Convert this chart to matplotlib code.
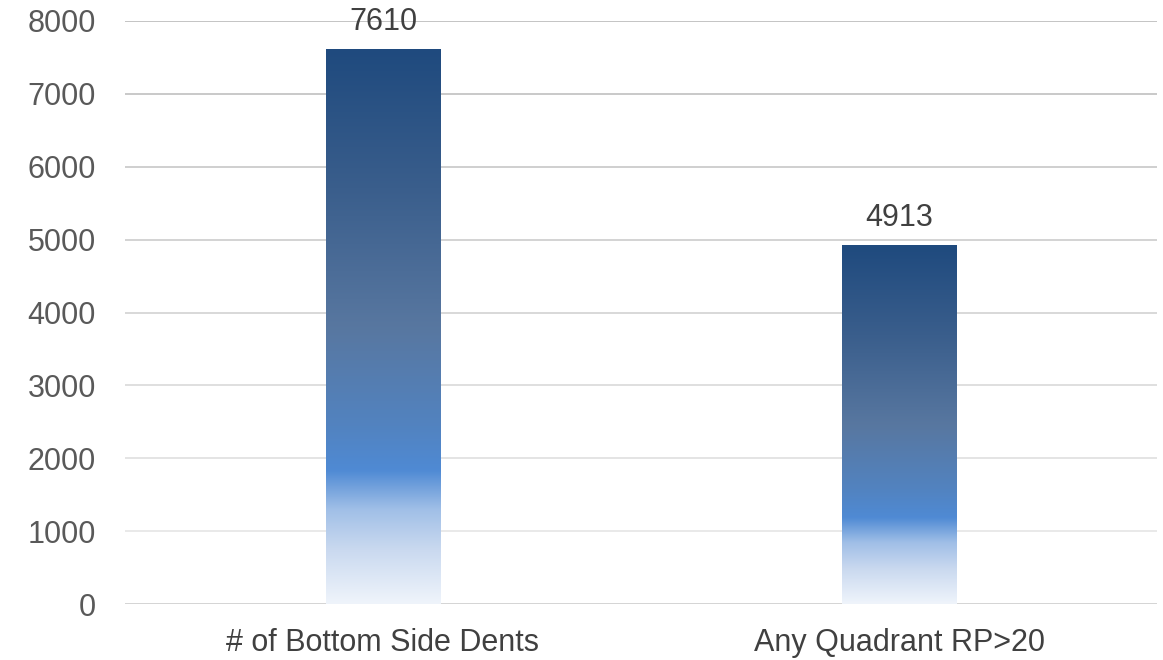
import numpy as np
import matplotlib.pyplot as plt
from matplotlib.colors import LinearSegmentedColormap

categories = ["# of Bottom Side Dents", "Any Quadrant RP>20"]
counts = [7610, 4913]
y_ticks = [0, 1000, 2000, 3000, 4000, 5000, 6000, 7000, 8000]

plt.rcParams["font.family"] = ["Liberation Sans", "DejaVu Sans"]

# gradient, bottom -> top of each bar
grad = LinearSegmentedColormap.from_list("bar_grad", [
    (0.00, "#eff4fb"),
    (0.10, "#c8d8ef"),
    (0.17, "#a0bfe7"),
    (0.24, "#4f8ad4"),
    (0.32, "#5283c0"),
    (0.50, "#5877a0"),
    (0.75, "#3a5e8c"),
    (1.00, "#1f4a7e"),
])

fig = plt.figure(figsize=(11.63, 6.6), dpi=100)
ax = fig.add_axes([125 / 1163, 56 / 660, 1032 / 1163, 583 / 660])

x = np.arange(len(categories))
bars = ax.bar(x, counts, width=0.221, color="none", zorder=3)

g = np.linspace(0, 1, 256).reshape(-1, 1)
for b in bars:
    x0, y0 = b.get_x(), b.get_y()
    w, h = b.get_width(), b.get_height()
    ax.imshow(g, cmap=grad, origin="lower", aspect="auto",
              extent=(x0, x0 + w, y0, y0 + h), zorder=3, interpolation="bicubic")

ax.set_xlim(-0.5, 1.5)
ax.set_ylim(0, 8000)

# gridlines fade from top to bottom
for t in y_ticks:
    shade = 0.75 + 0.18 * (1 - t / 8000)
    if t == 0:
        shade = 0.82
    ax.axhline(t, color=(shade, shade, shade), lw=1.3, zorder=1)

for b, v in zip(bars, counts):
    ax.text(b.get_x() + b.get_width() / 2, v + 175, str(v),
            ha="center", va="bottom", fontsize=22, color="#404040")

ax.set_yticks(y_ticks)
ax.set_xticks(x)
ax.set_xticklabels(categories)
ax.tick_params(axis="y", length=0, pad=21, labelsize=22, labelcolor="#595959")
ax.tick_params(axis="x", length=0, pad=17, labelsize=22, labelcolor="#404040")
for s in ax.spines.values():
    s.set_visible(False)

fig.savefig("out.png", dpi=100)
